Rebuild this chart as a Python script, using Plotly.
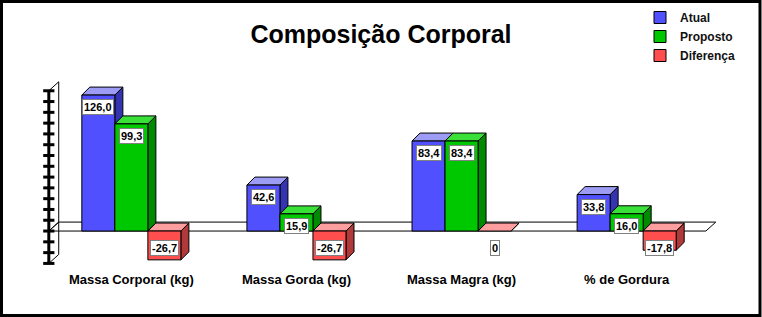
import plotly.graph_objects as go

# ---------------- data ----------------
categories = ["Massa Corporal (kg)", "Massa Gorda (kg)", "Massa Magra (kg)", "% de Gordura"]
atual = [126.0, 42.6, 83.4, 33.8]
proposto = [99.3, 15.9, 83.4, 16.0]
diferenca = [-26.7, -26.7, 0.0, -17.8]
series_names = ["Atual", "Proposto", "Diferença"]
axis_ticks = [-30, -20, -10, 0, 10, 20, 30, 40, 50, 60, 70, 80, 90, 100, 110, 120, 130]

# ---------------- layout constants ----------------
W, H = 762, 317
ML, MR, MT, MB = 29, 33, 60, 47
PW, PH = W - ML - MR, H - MT - MB
X_RANGE = [-0.62, 3.62]
Y_RANGE = [-36.1, 158.5]
BAR_W = 0.2
OFFSETS = [-0.2, 0.0, 0.2]
BAR_DX, BAR_DY = 0.0485, 7.4
FL_DX, FL_DY = 0.06, 8.3
FLOOR_X = [-0.5, 3.48]

STYLE = {
    "Atual": dict(front="#5050FF", top="#9C9CF4", side="#3434B0"),
    "Proposto": dict(front="#00C800", top="#38E038", side="#008A00"),
    "Diferença": dict(front="#FF4E4E", top="#FF9E9E", side="#B03A3A"),
}


def fmt(v):
    if v == 0:
        return "0"
    return f"{v:.1f}".replace(".", ",")


fig = go.Figure()

# floor
fx0, fx1 = FLOOR_X
fig.add_trace(go.Scatter(
    x=[fx0, fx1, fx1 + FL_DX, fx0 + FL_DX, fx0],
    y=[0, 0, FL_DY, FL_DY, 0],
    mode="lines", fill="toself", fillcolor="white",
    line=dict(color="black", width=1), showlegend=False, hoverinfo="skip"))

# wall outline
lo, hi = axis_ticks[0], axis_ticks[-1]
fig.add_trace(go.Scatter(
    x=[fx0, fx0 + FL_DX, fx0 + FL_DX, fx0, None, fx0, fx0 + FL_DX],
    y=[lo, lo + FL_DY, hi + FL_DY, hi, None, 0, FL_DY],
    mode="lines", line=dict(color="black", width=1),
    showlegend=False, hoverinfo="skip"))

all_series = [atual, proposto, diferenca]
for name, vals, off in zip(series_names, all_series, OFFSETS):
    st = STYLE[name]
    fx, fy, tx, ty, sx, sy = [], [], [], [], [], []
    for i, v in enumerate(vals):
        xc = i + off
        x0, x1 = xc - BAR_W / 2, xc + BAR_W / 2
        top, bot = max(v, 0), min(v, 0)
        sx += [x1, x1 + BAR_DX, x1 + BAR_DX, x1, x1, None]
        sy += [bot, bot + BAR_DY, top + BAR_DY, top, bot, None]
        tx += [x0, x0 + BAR_DX, x1 + BAR_DX, x1, x0, None]
        ty += [top, top + BAR_DY, top + BAR_DY, top, top, None]
        if v != 0:
            fx += [x0, x1, x1, x0, x0, None]
            fy += [bot, bot, top, top, bot, None]
    for xs, ys, col in ((sx, sy, st["side"]), (tx, ty, st["top"]), (fx, fy, st["front"])):
        fig.add_trace(go.Scatter(
            x=xs, y=ys, mode="lines", fill="toself", fillcolor=col,
            line=dict(color="black", width=1), showlegend=False, hoverinfo="skip"))
    # legend entry
    fig.add_trace(go.Bar(x=[None], y=[None], name=name,
                         marker=dict(color=st["front"], line=dict(color="black", width=1))))
    # value labels
    for i, v in enumerate(vals):
        xc = i + off
        if v > 0:
            fig.add_annotation(x=xc, y=v, yanchor="top", yshift=-4, xanchor="center")
        else:
            fig.add_annotation(x=xc, y=0, yanchor="top", yshift=-9, xanchor="center")
        ann = fig.layout.annotations[-1]
        ann.update(text=fmt(v), showarrow=False, bgcolor="white",
                   bordercolor="#808080", borderwidth=1, borderpad=1,
                   font=dict(family="Arial", size=11, color="black", weight="bold"))

# thick left axis with ticks
fig.add_trace(go.Scatter(
    x=[fx0] * len(axis_ticks), y=axis_ticks, mode="lines+markers",
    line=dict(color="black", width=3),
    marker=dict(symbol="line-ew", size=8, line=dict(color="black", width=3)),
    showlegend=False, hoverinfo="skip", cliponaxis=False))

fig.update_layout(
    width=W, height=H,
    margin=dict(l=ML, r=MR, t=MT, b=MB, autoexpand=False),
    paper_bgcolor="white", plot_bgcolor="white",
    title=dict(text="Composição Corporal", x=0.5, xanchor="center",
               y=1 - 34 / H, yanchor="middle", yref="container",
               font=dict(family="Arial", size=25, color="black", weight="bold")),
    xaxis=dict(range=X_RANGE, tickvals=[0, 1, 2, 3], ticktext=categories,
               showgrid=False, zeroline=False, showline=False, ticks="",
               tickfont=dict(family="Arial", size=13, color="black", weight="bold")),
    yaxis=dict(range=Y_RANGE, visible=False),
    legend=dict(x=640 / W, y=1 - 3 / H, xref="container", yref="container",
                xanchor="left", yanchor="top", bgcolor="rgba(0,0,0,0)",
                font=dict(family="Arial", size=12, color="#111111", weight="bold")),
    showlegend=True,
    shapes=[dict(type="rect", xref="paper", yref="paper",
                 x0=(1.5 - ML) / PW, x1=(W - 2 - ML) / PW,
                 y0=-(MB - 1.5) / PH, y1=1 + (MT - 1.5) / PH,
                 line=dict(color="black", width=3))],
)

fig.write_html("out.html")
